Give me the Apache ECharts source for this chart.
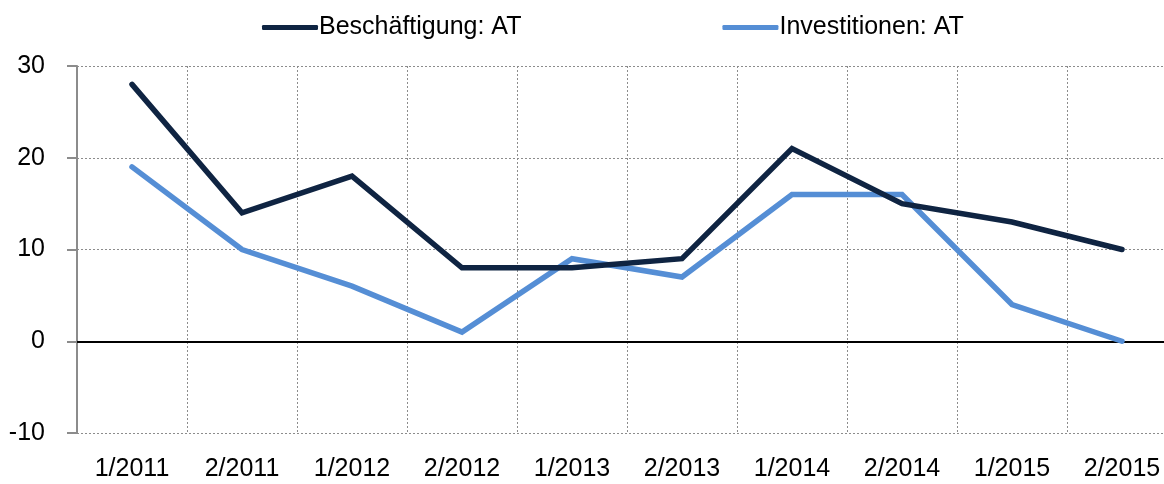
<!DOCTYPE html>
<html>
<head>
<meta charset="utf-8">
<script src="https://cdn.jsdelivr.net/npm/echarts@6/dist/echarts.min.js"></script>
<style>
  html, body { margin: 0; padding: 0; background: #fff; }
  #main { width: 1164px; height: 484px; }
</style>
</head>
<body>
<div id="main"></div>
<script>
// Kategorien (Halbjahre)
var categories = ['1/2011', '2/2011', '1/2012', '2/2012', '1/2013', '2/2013', '1/2014', '2/2014', '1/2015', '2/2015'];
// Werte der beiden Reihen
var beschaeftigung = [28, 14, 18, 8, 8, 9, 21, 15, 13, 10];
var investitionen = [19, 10, 6, 1, 9, 7, 16, 16, 4, 0];
var seriesNames = ['Beschäftigung: AT', 'Investitionen: AT'];

var font = '"Liberation Sans", Arial, sans-serif';

var dom = document.getElementById('main');
var myChart = echarts.init(dom);

var option = {
  animation: false,
  textStyle: { fontFamily: font },
  legend: {
    top: 10,
    left: 257,
    itemWidth: 56,
    itemHeight: 5,
    itemGap: 201,
    icon: 'roundRect',
    textStyle: { fontFamily: font, fontSize: 25, color: '#000', padding: [0, 0, 0, -4] },
    data: seriesNames
  },
  // Plotfläche ragt rechts etwas über den Rand hinaus (wie im Original)
  grid: {
    left: 77,
    width: 1100,
    top: 66,
    bottom: 51,
    outerBoundsMode: 'none'
  },
  xAxis: {
    type: 'category',
    data: categories,
    boundaryGap: true,
    axisLine: { show: false },
    axisTick: { show: false },
    axisLabel: {
      interval: 0,
      margin: 24,
      fontSize: 25,
      color: '#000',
      fontFamily: font
    },
    splitLine: {
      show: true,
      interval: 0,
      lineStyle: { color: '#8c8c8c', type: [2, 2], width: 1 }
    }
  },
  yAxis: {
    type: 'value',
    min: -10,
    max: 30,
    interval: 10,
    axisLine: { show: true, lineStyle: { color: '#8c8c8c', width: 2 } },
    axisTick: { show: true, length: 10, lineStyle: { color: '#8c8c8c', width: 2 } },
    axisLabel: {
      margin: 32,
      fontSize: 25,
      color: '#000',
      fontFamily: font
    },
    splitLine: {
      show: true,
      lineStyle: { color: '#8c8c8c', type: [2, 2], width: 1 }
    }
  },
  series: [
    {
      name: seriesNames[0],
      type: 'line',
      data: beschaeftigung,
      symbol: 'none',
      lineStyle: { color: '#0f2442', width: 5.5, cap: 'round', join: 'miter' },
      itemStyle: { color: '#0f2442' },
      z: 3,
      markLine: {
        silent: true,
        symbol: 'none',
        label: { show: false },
        lineStyle: { color: '#000', type: 'solid', width: 2 },
        data: [{ yAxis: 0 }],
        z: 1
      }
    },
    {
      name: seriesNames[1],
      type: 'line',
      data: investitionen,
      symbol: 'none',
      lineStyle: { color: '#558ed5', width: 5.5, cap: 'round', join: 'miter' },
      itemStyle: { color: '#558ed5' },
      z: 2
    }
  ]
};

myChart.setOption(option);
</script>
</body>
</html>
